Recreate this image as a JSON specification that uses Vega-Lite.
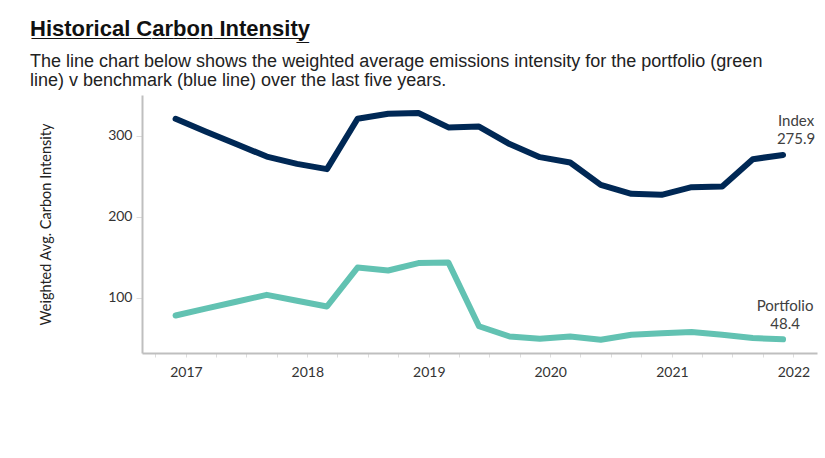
{
  "$schema": "https://vega.github.io/schema/vega-lite/v6.json",
  "width": 675,
  "height": 258,
  "autosize": {"type": "none"},
  "padding": {"left": 142, "top": 95, "right": 8, "bottom": 105},
  "background": "white",
  "config": {"view": {"stroke": null}},
  "title": {
    "text": "H̲i̲s̲t̲o̲r̲i̲c̲a̲l̲ ̲C̲a̲r̲b̲o̲n̲ ̲I̲n̲t̲e̲n̲s̲i̲t̲y̲",
    "subtitle": ["The line chart below shows the weighted average emissions intensity for the portfolio (green", "line) v benchmark (blue line) over the last five years."],
    "anchor": "start",
    "frame": "group",
    "dx": -112,
    "offset": 4,
    "font": "Liberation Sans",
    "fontSize": 22,
    "fontWeight": "bold",
    "color": "#111111",
    "subtitleFont": "Liberation Sans",
    "subtitleFontSize": 18,
    "subtitleColor": "#222222",
    "subtitleLineHeight": 19,
    "subtitlePadding": 12
  },
  "datasets": {
    "series": [
      {"date": "2016-12-01", "series": "Index", "value": 320.6},
      {"date": "2017-03-01", "series": "Index", "value": 305},
      {"date": "2017-06-01", "series": "Index", "value": 289.5},
      {"date": "2017-09-01", "series": "Index", "value": 274},
      {"date": "2017-12-01", "series": "Index", "value": 265},
      {"date": "2018-03-01", "series": "Index", "value": 258.5},
      {"date": "2018-06-01", "series": "Index", "value": 320.6},
      {"date": "2018-09-01", "series": "Index", "value": 326.8},
      {"date": "2018-12-01", "series": "Index", "value": 327.7},
      {"date": "2019-03-01", "series": "Index", "value": 310},
      {"date": "2019-06-01", "series": "Index", "value": 311},
      {"date": "2019-09-01", "series": "Index", "value": 289.4},
      {"date": "2019-12-01", "series": "Index", "value": 273.3},
      {"date": "2020-03-01", "series": "Index", "value": 266.7},
      {"date": "2020-06-01", "series": "Index", "value": 239},
      {"date": "2020-09-01", "series": "Index", "value": 228},
      {"date": "2020-12-01", "series": "Index", "value": 226.8},
      {"date": "2021-03-01", "series": "Index", "value": 236.2},
      {"date": "2021-06-01", "series": "Index", "value": 237},
      {"date": "2021-09-01", "series": "Index", "value": 270.8},
      {"date": "2021-12-01", "series": "Index", "value": 275.9},
      {"date": "2016-12-01", "series": "Portfolio", "value": 77.8},
      {"date": "2017-03-01", "series": "Portfolio", "value": 86.3},
      {"date": "2017-06-01", "series": "Portfolio", "value": 94.8},
      {"date": "2017-09-01", "series": "Portfolio", "value": 103.3},
      {"date": "2017-12-01", "series": "Portfolio", "value": 96},
      {"date": "2018-03-01", "series": "Portfolio", "value": 88.9},
      {"date": "2018-06-01", "series": "Portfolio", "value": 137},
      {"date": "2018-09-01", "series": "Portfolio", "value": 133.3},
      {"date": "2018-12-01", "series": "Portfolio", "value": 142.5},
      {"date": "2019-03-01", "series": "Portfolio", "value": 143.2},
      {"date": "2019-06-01", "series": "Portfolio", "value": 64.5},
      {"date": "2019-09-01", "series": "Portfolio", "value": 51.9},
      {"date": "2019-12-01", "series": "Portfolio", "value": 49},
      {"date": "2020-03-01", "series": "Portfolio", "value": 51.9},
      {"date": "2020-06-01", "series": "Portfolio", "value": 47.8},
      {"date": "2020-09-01", "series": "Portfolio", "value": 54},
      {"date": "2020-12-01", "series": "Portfolio", "value": 56},
      {"date": "2021-03-01", "series": "Portfolio", "value": 57.3},
      {"date": "2021-06-01", "series": "Portfolio", "value": 54},
      {"date": "2021-09-01", "series": "Portfolio", "value": 49.9},
      {"date": "2021-12-01", "series": "Portfolio", "value": 48.4}
    ],
    "last": [
      {"date": "2021-12-01", "series": "Index", "value": 275.9},
      {"date": "2021-12-01", "series": "Portfolio", "value": 48.4}
    ]
  },
  "encoding": {
    "x": {
      "field": "date",
      "type": "temporal",
      "scale": {
        "type": "utc",
        "domain": [
          {"year": 2016, "month": 8, "date": 22, "utc": true},
          {"year": 2022, "month": 3, "date": 13, "utc": true}
        ]
      },
      "axis": {
        "title": null,
        "grid": false,
        "tickCount": {"interval": "month", "step": 3},
        "labelExpr": "utcFormat(datum.value, '%m') == '01' ? utcFormat(datum.value, '%Y') : ''",
        "labelFlush": false,
        "labelOverlap": false,
        "domainColor": "#bfbfbf",
        "domainWidth": 2,
        "tickColor": "#dddddd",
        "tickSize": 4,
        "tickWidth": 1,
        "labelFont": "Lato",
        "labelFontSize": 14,
        "labelColor": "#333333",
        "labelPadding": 8
      }
    },
    "y": {
      "field": "value",
      "type": "quantitative",
      "scale": {"domain": [31.5, 350], "nice": false, "zero": false},
      "axis": {
        "title": "Weighted Avg. Carbon Intensity",
        "values": [100, 200, 300],
        "grid": false,
        "domainColor": "#bfbfbf",
        "domainWidth": 2,
        "tickColor": "#dddddd",
        "tickSize": 6,
        "tickWidth": 1,
        "labelFont": "Lato",
        "labelFontSize": 14,
        "labelColor": "#333333",
        "labelPadding": 4,
        "titleFont": "Lato",
        "titleFontSize": 14.5,
        "titleFontWeight": "normal",
        "titleColor": "#222222",
        "titleX": -92,
        "titleBaseline": "alphabetic"
      }
    }
  },
  "layer": [
    {
      "data": {"name": "series"},
      "mark": {"type": "line", "strokeWidth": 6, "strokeCap": "round", "strokeJoin": "round"},
      "encoding": {
        "color": {
          "field": "series",
          "type": "nominal",
          "scale": {"domain": ["Index", "Portfolio"], "range": ["#002855", "#62c2b2"]},
          "legend": null
        }
      }
    },
    {
      "data": {"name": "last"},
      "transform": [{"filter": {"field": "series", "equal": "Index"}}],
      "mark": {"type": "text", "align": "center", "baseline": "alphabetic", "dx": 13, "dy": -29, "font": "Lato", "fontSize": 15, "color": "#404040"},
      "encoding": {"text": {"field": "series"}}
    },
    {
      "data": {"name": "last"},
      "transform": [{"filter": {"field": "series", "equal": "Index"}}],
      "mark": {"type": "text", "align": "center", "baseline": "alphabetic", "dx": 13, "dy": -11, "font": "Lato", "fontSize": 15, "color": "#404040"},
      "encoding": {"text": {"field": "value", "format": ".1f"}}
    },
    {
      "data": {"name": "last"},
      "transform": [{"filter": {"field": "series", "equal": "Portfolio"}}],
      "mark": {"type": "text", "align": "center", "baseline": "alphabetic", "dx": 2, "dy": -28.5, "font": "Lato", "fontSize": 15, "color": "#404040"},
      "encoding": {"text": {"field": "series"}}
    },
    {
      "data": {"name": "last"},
      "transform": [{"filter": {"field": "series", "equal": "Portfolio"}}],
      "mark": {"type": "text", "align": "center", "baseline": "alphabetic", "dx": 2, "dy": -10.5, "font": "Lato", "fontSize": 15, "color": "#404040"},
      "encoding": {"text": {"field": "value", "format": ".1f"}}
    }
  ]
}
